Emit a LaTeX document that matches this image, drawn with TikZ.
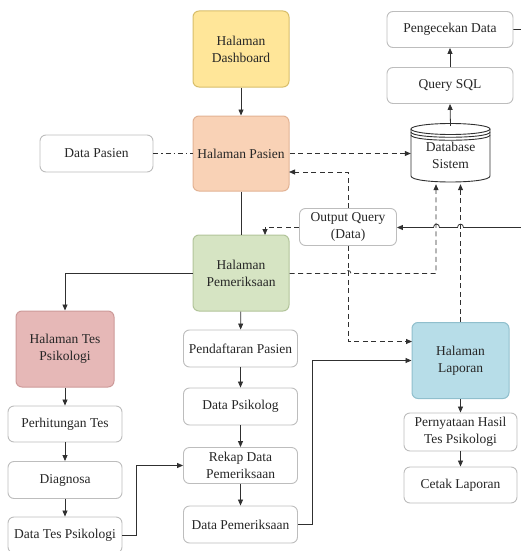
\documentclass[tikz,border=0pt]{standalone}
\usepackage{fontspec}
\setmainfont{Liberation Serif}
\usetikzlibrary{arrows.meta}

\definecolor{inkc}{HTML}{262626}
\definecolor{linec}{HTML}{303030}
\definecolor{yfill}{HTML}{FFE699}\definecolor{ydraw}{HTML}{D8BE6A}
\definecolor{pfill}{HTML}{F9D2B6}\definecolor{pdraw}{HTML}{E2B394}
\definecolor{gfill}{HTML}{D6E4C3}\definecolor{gdraw}{HTML}{B2C49A}
\definecolor{rfill}{HTML}{E6B8B7}\definecolor{rdraw}{HTML}{CD9A99}
\definecolor{bfill}{HTML}{B7DDE8}\definecolor{bdraw}{HTML}{90BFCD}
\definecolor{wdraw}{HTML}{BDBDBD}

\tikzset{
  x=1pt, y=-1pt,
  every node/.style={font=\rmfamily\fontsize{13.5}{17}\selectfont, text=inkc, align=center, inner sep=1pt},
  pagebox/.style={rounded corners=6pt, line width=1pt, minimum width=96pt, minimum height=76pt},
  infobox/.style={draw=wdraw, fill=white, rounded corners=6pt, line width=0.9pt, minimum width=114pt, minimum height=36pt},
  flow/.style={draw=linec, line width=0.8pt, -{Triangle[length=6pt,width=5pt]}},
  plain/.style={draw=linec, line width=0.8pt},
  dflow/.style={flow, dash pattern=on 5pt off 3.5pt},
  ddot/.style={plain, dash pattern=on 5pt off 3pt on 1.2pt off 3pt},
}

\begin{document}
\begin{tikzpicture}
\useasboundingbox (0,0) rectangle (521,551);

% main pages
\node[pagebox, draw=ydraw, fill=yfill] (dash) at (241,49) {Halaman\\Dashboard};
\node[pagebox, draw=pdraw, fill=pfill, minimum height=75pt] (pas) at (241,153.5) {Halaman Pasien};
\node[pagebox, draw=gdraw, fill=gfill] (pem) at (241,273) {Halaman\\Pemeriksaan};
\node[pagebox, draw=rdraw, fill=rfill, minimum width=98pt] (tes) at (65,349) {Halaman Tes\\Psikologi};
\node[pagebox, draw=bdraw, fill=bfill, minimum width=97pt] (lap) at (460.5,360.5) {Halaman\\Laporan};

% data / process boxes
\node[infobox, minimum width=113pt, minimum height=37pt] (dpas) at (96.5,153.5) {Data Pasien};
\node[infobox, minimum width=97pt, minimum height=37pt] (oq) at (348,227) {Output Query\\(Data)};
\node[infobox, minimum width=126pt] (sql) at (450,85.5) {Query SQL};
\node[infobox, minimum width=126pt] (peng) at (450,29.5) {Pengecekan Data};

\node[infobox] (hit) at (65,424) {Perhitungan Tes};
\node[infobox, minimum height=37pt] (diag) at (65,480) {Diagnosa};
\node[infobox] (dtes) at (65,535) {Data Tes Psikologi};

\node[infobox, minimum height=37pt] (daft) at (240.5,348.5) {Pendaftaran Pasien};
\node[infobox, minimum height=37pt] (dpsi) at (240.5,406.5) {Data Psikolog};
\node[infobox] (rekap) at (240.5,465.5) {Rekap Data\\Pemeriksaan};
\node[infobox, minimum height=37pt] (dpem) at (240.5,524.5) {Data Pemeriksaan};

\node[infobox, minimum width=113pt, minimum height=38pt] (hasil) at (460.5,432) {Pernyataan Hasil\\Tes Psikologi};
\node[infobox, minimum width=113pt] (cetak) at (460.5,485) {Cetak Laporan};

% database cylinder
\begin{scope}[line width=0.9pt, draw=linec]
  \fill[white] (411,129) -- (411,176) .. controls (411,184) and (490,184) .. (490,176) -- (490,129) -- cycle;
  \draw[fill=white] (450.5,129) ellipse [x radius=39.5, y radius=5.5];
  \draw (411,132) .. controls (411,139) and (490,139) .. (490,132);
  \draw (411,135) .. controls (411,142) and (490,142) .. (490,135);
  \draw (411,129) -- (411,176) .. controls (411,184) and (490,184) .. (490,176) -- (490,129);
\end{scope}
\node[minimum width=79pt, minimum height=58pt] (db) at (450.5,155) {Database\\Sistem};

% solid flow
\draw[flow] (dash) -- (pas);
\draw[plain] (pas) -- (pem);
\draw[flow] (pem.west) -| (tes.north);
\draw[flow] (pem) -- (daft);
\draw[flow] (daft) -- (dpsi);
\draw[flow] (dpsi) -- (rekap);
\draw[flow] (rekap) -- (dpem);
\draw[flow] (tes) -- (hit);
\draw[flow] (hit) -- (diag);
\draw[flow] (diag) -- (dtes);
\coordinate (tk) at (136,535);
\draw[flow] (dtes.east) -- (tk) |- (rekap.west);
\coordinate (pk) at (312,524.5);
\draw[flow] (dpem.east) -- (pk) |- (lap.west);
\draw[flow] (lap) -- (hasil);
\draw[flow] (hasil) -- (cetak);
\draw[flow] (db.north) -- (sql.south);
\draw[flow] (sql) -- (peng);

% query result returned to the output box, hopping over the dashed lines
\coordinate (rt) at (536,29.5);
\coordinate (rb) at (536,227.5);
\draw[flow] (peng.east) -- (rt) -- (rb) -- (463.5,227.5)
  .. controls (463.5,223) and (457.5,223) .. (457.5,227.5) -- (439.5,227.5)
  .. controls (439.5,223) and (433.5,223) .. (433.5,227.5) -- (oq.east |- rb);

% dashed data links
\draw[ddot] (dpas) -- (pas);
\draw[dflow] (pas) -- (db.west |- pas);
\coordinate (pasq) at (289,172);
\draw[dflow] (oq.north) |- (pasq);
\coordinate (pemq) at (265,235);
\draw[dflow] (oq.west) -| (pemq);
\coordinate (lapq) at (412,341.5);
\draw[dflow] (oq.south) |- (lapq);
\coordinate (pemr) at (436,273.5);
\draw[dflow] (pem.east |- pemr) -- (345,273.5)
  .. controls (345,269.5) and (351,269.5) .. (351,273.5) -- (pemr) -- (pemr |- db.south);
\draw[dflow] (lap.north) -- (lap.north |- db.south);
\end{tikzpicture}
\end{document}
